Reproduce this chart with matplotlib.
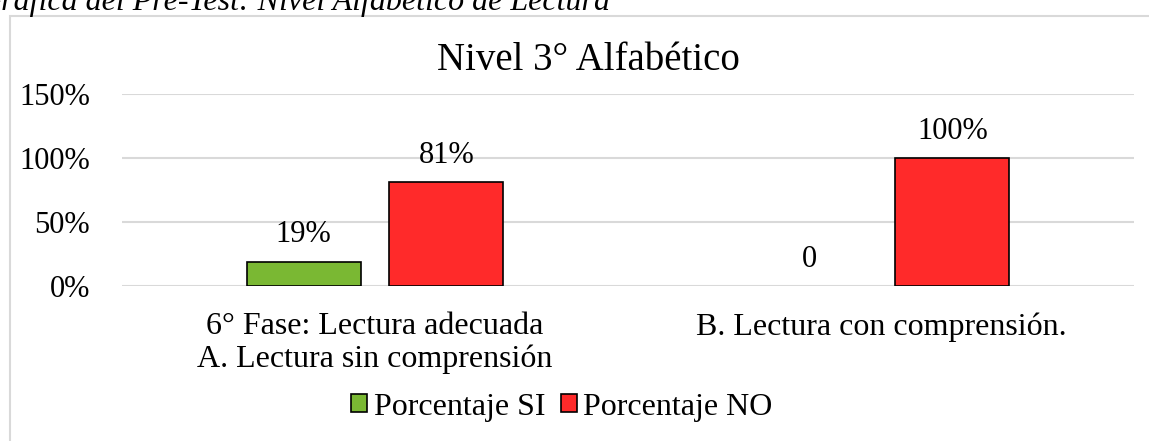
import matplotlib
matplotlib.use("Agg")
import matplotlib.pyplot as plt
from matplotlib.patches import Rectangle
import numpy as np

categories = ["6° Fase: Lectura adecuada\nA. Lectura sin comprensión", "B. Lectura con comprensión."]
series_names = ["Porcentaje SI", "Porcentaje NO"]
si_values = [0.19, 0.0]
no_values = [0.81, 1.00]
si_labels = ["19%", "0"]
no_labels = ["81%", "100%"]
yticks = [0, 0.5, 1.0, 1.5]
ytick_labels = ["0%", "50%", "100%", "150%"]
title = "Nivel 3° Alfabético"
caption = "Gráfica del Pre-Test: Nivel Alfabético de Lectura"

plt.rcParams['font.family'] = ['Liberation Serif', 'DejaVu Serif']
W, H = 1149, 441
fig = plt.figure(figsize=(W/100, H/100), dpi=100)

def fx(px): return px / W
def fy(py): return 1 - py / H

# frame
fig.patches.append(Rectangle((fx(10), fy(445)), fx(1150), fy(16) - fy(445),
                             transform=fig.transFigure, fill=False,
                             edgecolor='#d9d9d9', linewidth=1.5))
# caption (cut at top, as in the reference)
fig.text(fx(-22), fy(10), caption, fontsize=23, style='italic',
         va='baseline', ha='left', color='black')

ax = fig.add_axes([fx(122), fy(286), fx(1134) - fx(122), fy(94) - fy(286)])
x = np.arange(len(categories))
w = 0.225
off = 0.141
green = '#7ab833'
red = '#ff2a2a'
si_edges = ['black' if v > 0 else 'none' for v in si_values]
b1 = ax.bar(x - off, si_values, w, color=green, edgecolor=si_edges, linewidth=1.2, label=series_names[0], zorder=3)
b2 = ax.bar(x + off, no_values, w, color=red, edgecolor='black', linewidth=1.2, label=series_names[1], zorder=3)

for xi, v, lab in zip(x - off, si_values, si_labels):
    ax.text(xi, v + 0.15, lab, ha='center', va='baseline', fontsize=22)
for xi, v, lab in zip(x + off, no_values, no_labels):
    ax.text(xi, v + 0.15, lab, ha='center', va='baseline', fontsize=22)

ax.set_xlim(-0.5, 1.5)
ax.set_ylim(0, 1.5)
ax.set_yticks(yticks)
ax.set_yticklabels(ytick_labels, fontsize=22)
ax.set_xticks(x)
ax.set_xticklabels(categories, fontsize=23, linespacing=1.12, va='top')
ax.tick_params(axis='both', length=0)
ax.tick_params(axis='y', pad=23)
ax.tick_params(axis='x', pad=19)
for s in ax.spines.values():
    s.set_visible(False)
ax.grid(axis='y', color='#d9d9d9', linewidth=1.5, zorder=0)
ax.set_axisbelow(True)

fig.text(fx(588), fy(60), title, ha='center', va='center', fontsize=28)

fig.legend(handles=[b1, b2], labels=series_names, loc='center',
           bbox_to_anchor=(fx(562), fy(407)), ncol=2, frameon=False,
           fontsize=23, handlelength=0.5, handleheight=0.5,
           handletextpad=0.2, columnspacing=0.5, borderpad=0)

fig.savefig("out.png", dpi=100)
